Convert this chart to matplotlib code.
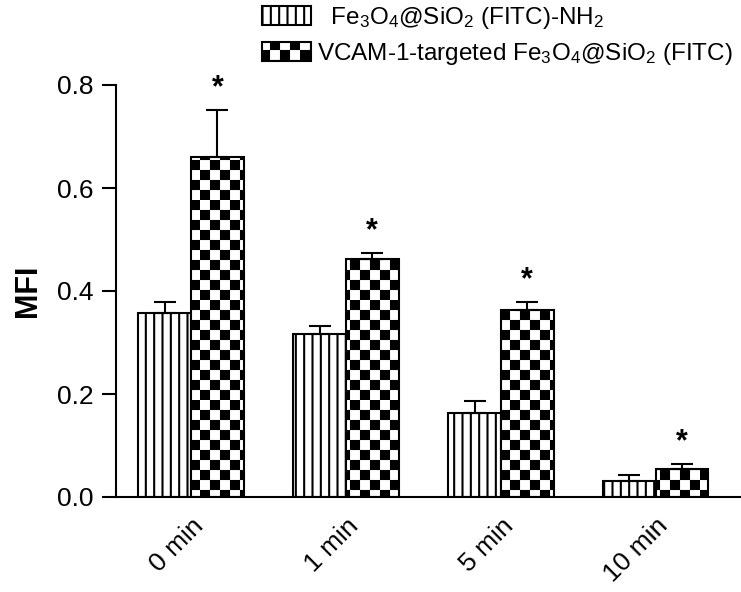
import numpy as np
import matplotlib
matplotlib.use('Agg')
import matplotlib.pyplot as plt
from matplotlib import hatch as mhatch
from matplotlib.path import Path

groups = ['0 min', '1 min', '5 min', '10 min']
nh2 = [0.357, 0.317, 0.163, 0.031]
nh2_err = [0.021, 0.016, 0.023, 0.012]
vcam = [0.660, 0.462, 0.363, 0.054]
vcam_err = [0.091, 0.012, 0.016, 0.010]
labels = [r'  Fe$_3$O$_4$@SiO$_2$ (FITC)-NH$_2$',
          r'VCAM-1-targeted Fe$_3$O$_4$@SiO$_2$ (FITC)']


# checkerboard hatch: filled squares, 'x' in the hatch string
class CheckerHatch(mhatch.HatchPatternBase):
  def __init__(self, hatch, density):
    self.n = hatch.count('x') * 5
    self.num_vertices = (self.n * self.n // 2) * 5

  def set_vertices_and_codes(self, vertices, codes):
    step = 1.0 / self.n
    s = step * 0.8
    k = 0
    for i in range(self.n):
      for j in range(self.n):
        if (i + j) % 2:
          continue
        x0 = i * step + (step - s) / 2
        y0 = j * step + (step - s) / 2
        vertices[k:k + 5] = [[x0, y0], [x0 + s, y0], [x0 + s, y0 + s],
                             [x0, y0 + s], [x0, y0]]
        codes[k:k + 5] = [Path.MOVETO, Path.LINETO, Path.LINETO,
                          Path.LINETO, Path.CLOSEPOLY]
        k += 5


mhatch._hatch_types = [mhatch.VerticalHatch, CheckerHatch]

plt.rcParams['font.family'] = ['Liberation Sans', 'DejaVu Sans']
plt.rcParams['mathtext.fontset'] = 'custom'
plt.rcParams['mathtext.rm'] = 'Liberation Sans'
plt.rcParams['mathtext.it'] = 'Liberation Sans'
plt.rcParams['hatch.linewidth'] = 1.5

fig = plt.figure(figsize=(7.41, 5.92), dpi=100)
ax = fig.add_axes([116 / 741, 1 - 497 / 592, 1 - 116 / 741, (497 - 85) / 592])

x = np.arange(len(groups))
w = 0.34
b1 = ax.bar(x - w / 2, nh2, w, color='white', edgecolor='black',
            linewidth=1.5, hatch='||', label=labels[0])
b2 = ax.bar(x + w / 2, vcam, w, color='white', edgecolor='black',
            linewidth=1.5, hatch='xx', label=labels[1])
ax.errorbar(x - w / 2, nh2, yerr=[np.zeros(len(nh2)), nh2_err], fmt='none',
            ecolor='black', elinewidth=1.5, capsize=8, capthick=1.5)
ax.errorbar(x + w / 2, vcam, yerr=[np.zeros(len(vcam)), vcam_err], fmt='none',
            ecolor='black', elinewidth=1.5, capsize=8, capthick=1.5)

for xi, v, e in zip(x + w / 2, vcam, vcam_err):
  ax.annotate('*', (xi, v + e), xytext=(0, 5), textcoords='offset points',
              ha='center', va='bottom', fontsize=22, fontweight='bold')

ax.set_xlim(-0.484, 3.55)
ax.set_ylim(0, 0.8)
ax.set_yticks([0.0, 0.2, 0.4, 0.6, 0.8])
ax.set_yticklabels(['0.0', '0.2', '0.4', '0.6', '0.8'])
ax.set_xticks(x)
ax.set_xticklabels(groups, rotation=45, ha='right', rotation_mode='anchor')
ax.tick_params(axis='x', length=0, pad=12, labelsize=19)
ax.tick_params(axis='y', length=10, width=1.5, pad=6, labelsize=19)
ax.spines['top'].set_visible(False)
ax.spines['right'].set_visible(False)
ax.spines['left'].set_linewidth(1.5)
ax.spines['bottom'].set_linewidth(1.5)
ax.set_ylabel('MFI', fontsize=22, fontweight='bold', labelpad=10)

fig.legend(handles=[b1, b2], loc='upper left',
           bbox_to_anchor=(262 / 741, 1 - 5 / 592), frameon=False,
           fontsize=17.5, handlelength=2.0, handleheight=0.85,
           handletextpad=0.25, labelspacing=0.4, borderpad=0, borderaxespad=0)

plt.savefig('out.png', dpi=100)
